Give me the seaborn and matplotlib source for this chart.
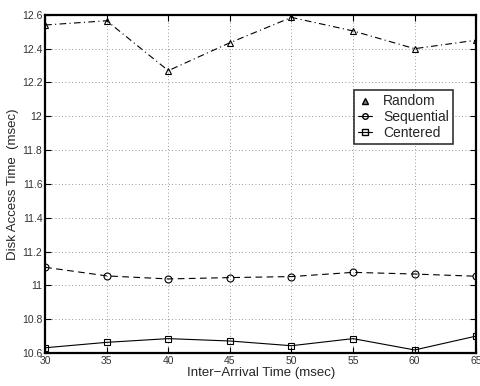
import matplotlib
matplotlib.use("Agg")
import matplotlib.pyplot as plt
import seaborn as sns
import pandas as pd
from matplotlib.lines import Line2D

x_vals = [30, 35, 40, 45, 50, 55, 60, 65]
random_vals = [12.54, 12.565, 12.27, 12.435, 12.585, 12.505, 12.40, 12.45]
sequential_vals = [11.107, 11.056, 11.038, 11.046, 11.052, 11.077, 11.067, 11.054]
centered_vals = [10.631, 10.663, 10.685, 10.671, 10.643, 10.685, 10.618, 10.70]
series_names = ["Random", "Sequential", "Centered"]
x_ticks = [30, 35, 40, 45, 50, 55, 60, 65]
y_ticks = [10.6, 10.8, 11, 11.2, 11.4, 11.6, 11.8, 12, 12.2, 12.4, 12.6]
y_tick_labels = ["10.6", "10.8", "11", "11.2", "11.4", "11.6", "11.8", "12", "12.2", "12.4", "12.6"]

sns.set_style("white")
plt.rcParams['font.family'] = ['Liberation Sans', 'DejaVu Sans']

df = pd.DataFrame({
    "x": x_vals * 3,
    "y": random_vals + sequential_vals + centered_vals,
    "series": [series_names[0]] * 8 + [series_names[1]] * 8 + [series_names[2]] * 8,
})

fig = plt.figure(figsize=(4.8, 3.86), dpi=100)
ax = fig.add_axes([0.094, 0.0855, 0.898, 0.876])

styles = {
    "Random": dict(ls=(0, (6, 3, 1, 3)), marker="^"),
    "Sequential": dict(ls=(0, (6, 4)), marker="o"),
    "Centered": dict(ls="-", marker="s"),
}
for name in series_names:
    sub = df[df["series"] == name]
    st = styles[name]
    sns.lineplot(data=sub, x="x", y="y", ax=ax, color="black", linewidth=0.8,
                 linestyle=st["ls"], marker=st["marker"], markersize=5,
                 markerfacecolor="none", markeredgecolor="black", markeredgewidth=0.8,
                 legend=False, zorder=3)

ax.set_xlim(30, 65)
ax.set_ylim(10.6, 12.6)
ax.set_xticks(x_ticks)
ax.set_yticks(y_ticks)
ax.set_yticklabels(y_tick_labels)
ax.tick_params(direction="in", length=4, width=0.8, labelsize=7.5, top=True, right=True,
               bottom=True, left=True, pad=2, colors="black")
for lab in ax.get_xticklabels() + ax.get_yticklabels():
    lab.set_color("#333333")
ax.grid(True, linestyle=(0, (1, 3)), color="#777777", linewidth=0.6)
for s in ax.spines.values():
    s.set_visible(True)
    s.set_color("black")
    s.set_linewidth(1.6)
    s.set_zorder(4)
ax.set_xlabel("Inter\u2212Arrival Time (msec)", fontsize=9.5, labelpad=1)
ax.set_ylabel("Disk Access Time  (msec)", fontsize=9.5, labelpad=2)

handles = [
    Line2D([], [], color="black", lw=0.8, ls="none", marker="^", markersize=4,
           markerfacecolor="gray", markeredgecolor="black"),
    Line2D([], [], color="black", lw=0.8, ls="-", marker="o", markersize=4,
           markerfacecolor="none", markeredgecolor="black"),
    Line2D([], [], color="black", lw=0.8, ls="-", marker="s", markersize=4,
           markerfacecolor="none", markeredgecolor="black"),
]
leg = ax.legend(handles, series_names, loc="upper left", bbox_to_anchor=(0.717, 0.777),
                fontsize=10, frameon=True, fancybox=False, edgecolor="black",
                handlelength=1.0, handletextpad=0.8, borderpad=0.3, labelspacing=0.12,
                borderaxespad=0)
leg.get_frame().set_linewidth(1.2)
leg.set_zorder(5)

fig.savefig("out.png", dpi=100, facecolor="white")
